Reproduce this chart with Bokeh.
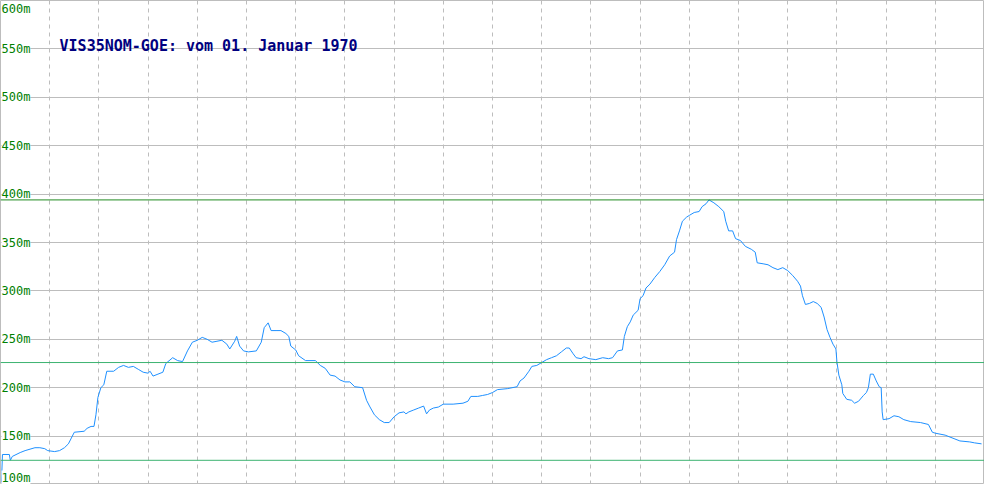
from bokeh.plotting import figure
from bokeh.models import FixedTicker, Label, Span, Range1d
from bokeh.core.properties import value
from bokeh.embed import file_html
from bokeh.resources import INLINE

# ---- data ----
t = [1, 2, 9, 10, 12, 20, 25, 35, 40, 45, 48, 55, 60, 65, 69, 72, 75, 85, 88, 92, 95, 97, 99,
     102, 105, 108, 115, 120, 125, 130, 135, 140, 145, 150, 152, 155, 160, 165, 168, 175, 180,
     185, 190, 195, 200, 205, 210, 215, 220, 225, 230, 233, 238, 240, 243, 247, 252, 260, 265,
     268, 272, 275, 280, 285, 290, 293, 295, 300, 303, 310, 320, 325, 330, 335, 340, 345, 350,
     355, 360, 368, 372, 375, 380, 385, 390, 395, 400, 405, 410, 412, 415, 420, 425, 430, 433,
     436, 440, 445, 450, 460, 470, 475, 478, 485, 490, 495, 500, 505, 515, 525, 528, 532, 537,
     540, 545, 550, 555, 560, 565, 570, 575, 578, 582, 585, 590, 593, 598, 605, 612, 618, 622,
     627, 632, 634, 637, 640, 643, 648, 650, 653, 656, 660, 665, 670, 675, 680, 685, 687, 690,
     693, 697, 700, 705, 710, 713, 717, 720, 725, 730, 735, 737, 740, 744, 747, 752, 757, 763,
     767, 769, 775, 780, 785, 790, 795, 800, 805, 810, 813, 815, 818, 822, 826, 830, 834, 837,
     840, 843, 846, 849, 850, 852, 855, 856, 860, 865, 868, 872, 877, 880, 882, 884, 887, 890,
     893, 895, 896, 897, 903, 908, 913, 918, 925, 935, 943, 947, 950, 960, 970, 975, 985, 990, 997]
height_m = [102, 131, 131, 125, 129, 133, 135, 138, 138, 137, 135, 134, 135, 138, 142, 148, 154,
            155, 158, 160, 160, 172, 190, 200, 203, 217, 217, 221, 223, 221, 222, 219, 216, 215,
            217, 212, 214, 216, 225, 231, 228, 227, 238, 247, 249, 252, 250, 247, 248, 249, 245,
            240, 248, 253, 243, 238, 237, 238, 247, 262, 267, 259, 259, 259, 256, 253, 243, 239,
            233, 228, 228, 223, 220, 213, 212, 208, 206, 206, 201, 200, 187, 181, 172, 167, 164,
            164, 170, 174, 175, 173, 175, 177, 179, 181, 173, 177, 179, 180, 183, 183, 184, 186,
            191, 191, 192, 193, 195, 198, 199, 201, 207, 210, 217, 222, 223, 226, 229, 231, 233,
            237, 241, 241, 235, 231, 230, 232, 230, 229, 231, 230, 231, 238, 239, 253, 263, 268,
            275, 280, 292, 295, 303, 307, 314, 320, 327, 336, 340, 353, 362, 372, 376, 378, 381,
            382, 387, 390, 394, 391, 387, 382, 372, 362, 362, 354, 352, 346, 343, 340, 329, 328,
            327, 324, 322, 324, 321, 316, 310, 305, 295, 286, 287, 289, 287, 283, 273, 260, 252,
            245, 240, 227, 213, 203, 194, 188, 187, 184, 186, 192, 195, 200, 214, 214, 207, 201,
            200, 175, 167, 168, 171, 170, 167, 165, 164, 162, 154, 153, 151, 147, 145, 144, 143, 142]

y_ticks = [100, 150, 200, 250, 300, 350, 400, 450, 500, 550, 600]
y_tick_labels = ["100m", "150m", "200m", "250m", "300m", "350m", "400m", "450m", "500m", "550m", "600m"]
x_grid = [50, 100, 150, 200, 250, 300, 350, 400, 450, 500, 550, 600, 650, 700, 750, 800, 850, 900, 950]
ref_levels = [394, 226, 125]          # max, mean, min
ref_colors = ["#228B22", "#3CB371", "#3CB371"]
title_text = "VIS35NOM-GOE: vom 01. Januar 1970"

# ---- figure ----
p = figure(width=984, height=484, output_backend="svg", toolbar_location=None,
           x_range=Range1d(0, 1000), y_range=Range1d(100, 600),
           x_axis_location=None, y_axis_location=None, min_border=0)
p.outline_line_color = "#bdbdbd"
p.background_fill_color = "white"

p.ygrid.ticker = FixedTicker(ticks=y_ticks[1:-1])
p.ygrid.grid_line_color = "#bdbdbd"
p.xgrid.ticker = FixedTicker(ticks=x_grid)
p.xgrid.grid_line_color = "#bdbdbd"
p.xgrid.grid_line_dash = "4 4"

for lvl, col in zip(ref_levels, ref_colors):
    p.add_layout(Span(location=lvl, dimension="width", line_color=col, line_width=1))

p.line(t, height_m, line_color="#1E90FF", line_width=1)

font = value("DejaVu Sans Mono")
mid_idx = list(range(1, len(y_ticks) - 1))
p.text(x=[0] * len(mid_idx), y=[y_ticks[i] for i in mid_idx],
       text=[y_tick_labels[i] for i in mid_idx], text_font=font, text_font_size="12px",
       text_color="#008000", text_baseline="middle", text_align="left", x_offset=1,
       background_fill_color="white")
p.text(x=[0], y=[y_ticks[-1]], text=[y_tick_labels[-1]], text_font=font, text_font_size="12px",
       text_color="#008000", text_baseline="top", text_align="left", x_offset=1, y_offset=1,
       background_fill_color="white")
p.text(x=[0], y=[y_ticks[0]], text=[y_tick_labels[0]], text_font=font, text_font_size="12px",
       text_color="#008000", text_baseline="bottom", text_align="left", x_offset=1, y_offset=0,
       background_fill_color="white")

p.add_layout(Label(x=60, y=553, text=title_text, text_baseline="middle",
                   text_font="DejaVu Sans Mono", text_font_style="bold",
                   text_font_size="15px", text_color="#000080"))

open("out.html", "w").write(file_html(p, INLINE))
